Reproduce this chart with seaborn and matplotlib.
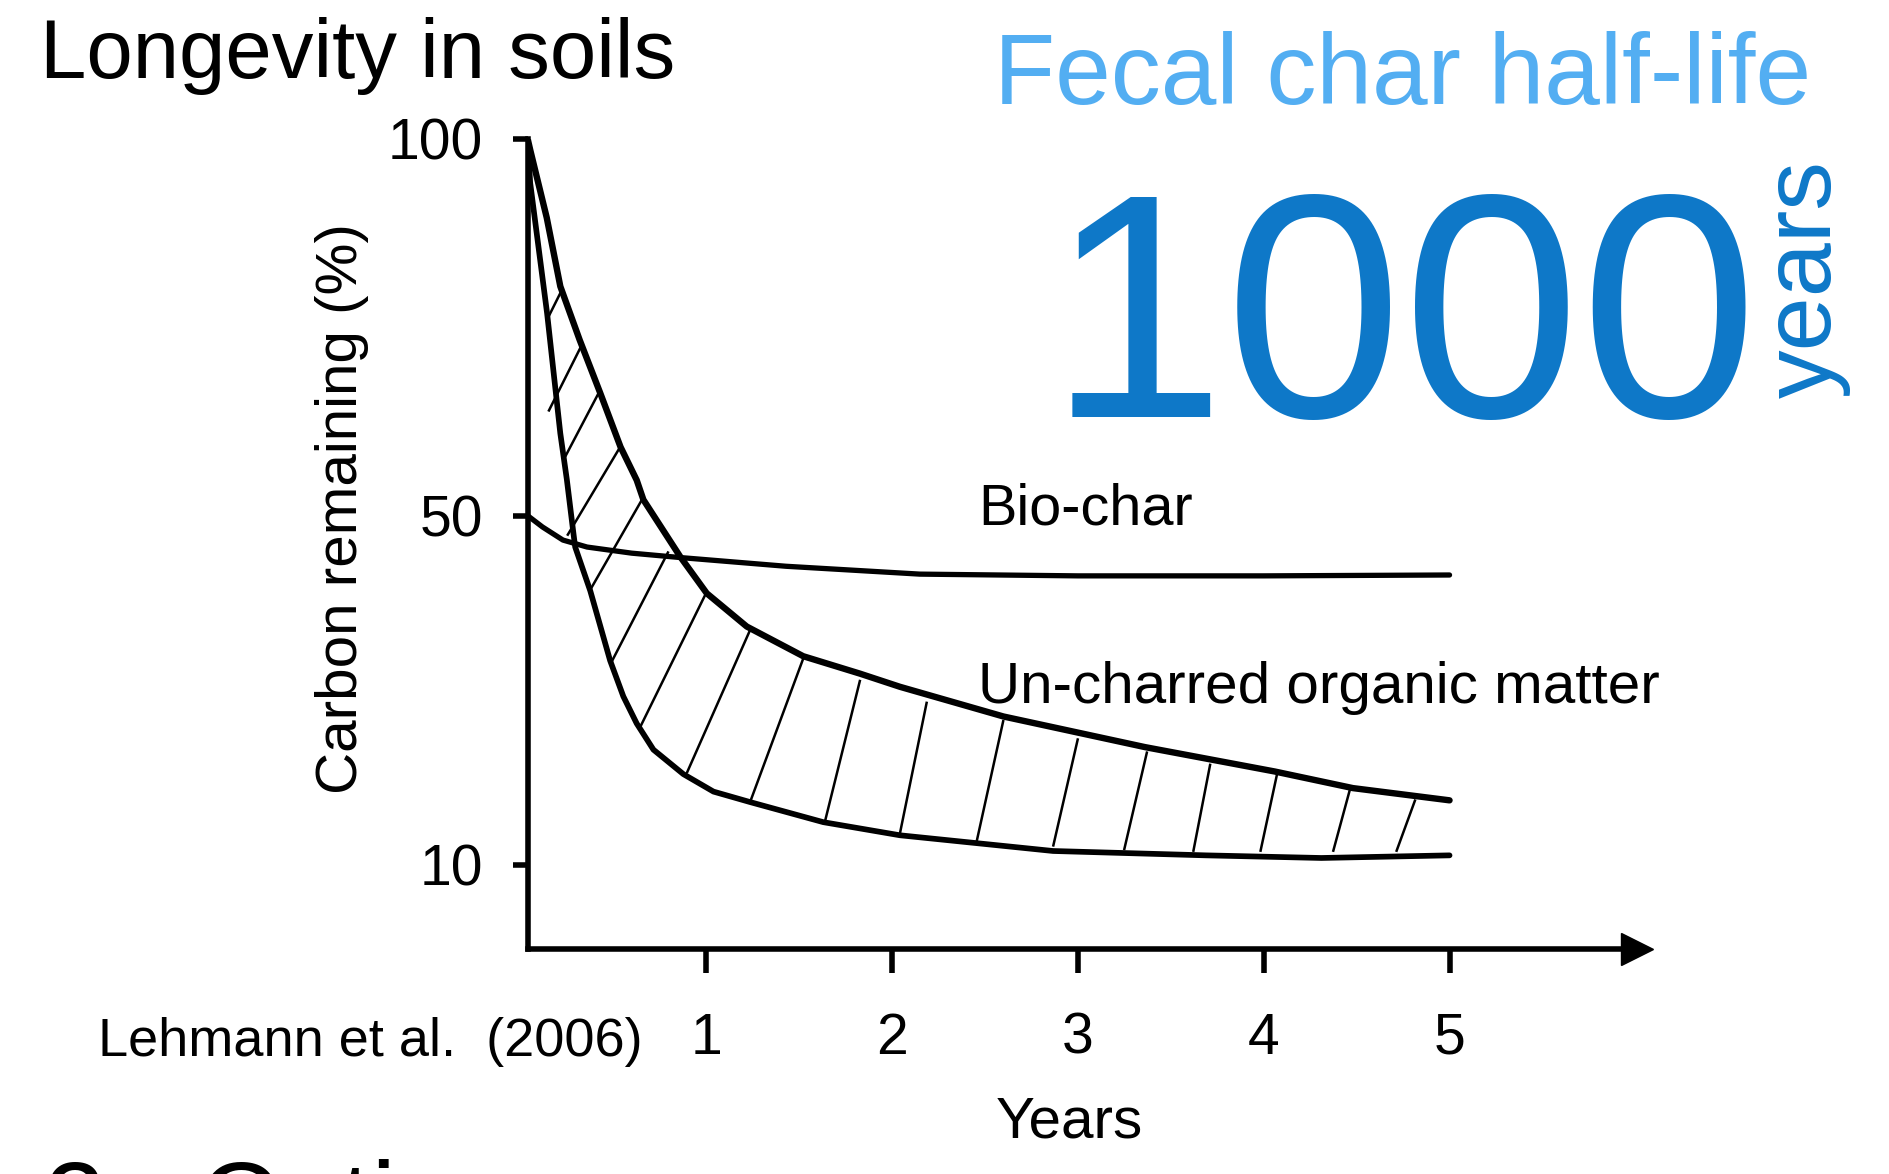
import matplotlib
matplotlib.use("Agg")
import matplotlib.pyplot as plt
import numpy as np
import pandas as pd
import seaborn as sns

biochar_years = [0.04, 0.12, 0.23, 0.36, 0.6, 0.86, 1.43, 2.15, 3.0, 4.0, 5.0]
biochar_carbon = [50.0, 48.7, 47.2, 46.4, 45.7, 45.2, 44.2, 43.3, 43.1, 43.1, 43.2]

upper_years = [0.04, 0.054, 0.143, 0.216, 0.32, 0.43, 0.54, 0.627, 0.663, 0.861, 1.004, 1.219,
               1.523, 1.829, 2.043, 2.6, 3.36, 4.06, 4.48, 5.0]
upper_carbon = [100, 98.5, 89.5, 80.4, 73.3, 66.3, 59.1, 54.7, 52.1, 45.3, 41.1, 37.3,
                33.9, 31.9, 30.4, 27.0, 23.5, 20.7, 18.8, 17.4]

lower_years = [0.04, 0.054, 0.145, 0.216, 0.251, 0.287, 0.296, 0.377, 0.484, 0.555, 0.627,
               0.717, 0.878, 1.04, 1.237, 1.631, 2.043, 2.867, 3.69, 4.31, 5.0]
lower_carbon = [100, 94.1, 76.8, 60.9, 54.8, 47.9, 46.4, 41.4, 33.4, 29.3, 26.2,
                23.2, 20.4, 18.4, 17.2, 14.9, 13.4, 11.6, 11.1, 10.8, 11.1]

# hand drawn hatching between the two un-charred curves
hatch_top_years = [0.224, 0.331, 0.421, 0.538, 0.655, 0.798, 0.995, 1.237, 1.524,
                   1.829, 2.188, 2.6, 3.001, 3.373, 3.713, 4.075, 4.466, 4.816]
hatch_top_carbon = [79.9, 72.6, 66.2, 59.1, 52.1, 45.9, 40.9, 36.9, 33.7,
                    31.2, 28.7, 26.6, 24.5, 23.0, 21.6, 20.7, 18.8, 17.5]
hatch_bottom_years = [0.143, 0.152, 0.242, 0.253, 0.377, 0.493, 0.646, 0.896, 1.237,
                      1.64, 2.043, 2.456, 2.867, 3.249, 3.621, 3.982, 4.373, 4.713]
hatch_bottom_carbon = [75.9, 63.8, 57.8, 47.7, 41.5, 33.3, 25.8, 20.5, 17.2,
                       15.0, 13.6, 12.7, 12.1, 11.7, 11.5, 11.5, 11.5, 11.5]

x_ticks = [1, 2, 3, 4, 5]
y_ticks = [10, 50, 100]

sns.set_theme(style="white")
plt.rcParams["font.family"] = ["Liberation Sans", "DejaVu Sans"]
plt.rcParams.update({"text.color": "black", "axes.labelcolor": "black",
                     "xtick.color": "black", "ytick.color": "black"})

# the original y axis is stretched unevenly between its labelled ticks
Y_KNOTS = [-1000, 0, 10, 50, 100, 1000]
Y_POS = [-7000, 0, 70, 360, 673, 673 + 900 * 6.26]


def y_forward(v):
    return np.interp(v, Y_KNOTS, Y_POS)


def y_inverse(p):
    return np.interp(p, Y_POS, Y_KNOTS)


df_bio = pd.DataFrame({"years": biochar_years, "carbon": biochar_carbon})
df_up = pd.DataFrame({"years": upper_years, "carbon": upper_carbon})
df_low = pd.DataFrame({"years": lower_years, "carbon": lower_carbon})

fig = plt.figure(figsize=(18.89, 11.74), dpi=100)
ax = fig.add_axes([0.2793, 0.1914, 0.5904, 0.6906])
ax.set_yscale("function", functions=(y_forward, y_inverse))

for x0, y0, x1, y1 in zip(hatch_top_years, hatch_top_carbon, hatch_bottom_years, hatch_bottom_carbon):
    ax.plot([x0, x1], [y0, y1], color="black", lw=1.8, solid_capstyle="butt")

line_kw = dict(x="years", y="carbon", sort=False, estimator=None, color="black", ax=ax)
sns.lineplot(data=df_up, lw=4.6, **line_kw)
sns.lineplot(data=df_low, lw=4.1, **line_kw)
sns.lineplot(data=df_bio, lw=3.8, **line_kw)
for l in ax.lines:
    l.set_solid_joinstyle("round")

ax.set_xlim(0.04, 6.04)
ax.set_ylim(0, 100)
ax.set_xticks(x_ticks)
ax.set_xticklabels([str(t) for t in x_ticks])
ax.set_yticks(y_ticks)
ax.set_yticklabels([str(t) for t in y_ticks])
ax.minorticks_off()
ax.tick_params(axis="y", direction="out", length=11, width=4, pad=21, labelsize=41, left=True)
ax.tick_params(axis="x", direction="out", length=17, width=4, pad=28, labelsize=41, bottom=True)
sns.despine(ax=ax)
for side in ["left", "bottom"]:
    ax.spines[side].set_linewidth(4)
    ax.spines[side].set_color("black")

# arrow head on the x axis
ax.plot([6.008], [0], marker=">", ms=23, color="black", transform=ax.get_xaxis_transform(), clip_on=False)

ax.set_ylabel("Carbon remaining (%)", fontsize=42, va="center")
ax.yaxis.set_label_coords(-0.166, 0.544)
ax.set_xlabel("Years", fontsize=42, va="baseline")
ax.xaxis.set_label_coords(0.486, -0.2327)

ax.text(2.465, 49.0, "Bio-char", fontsize=41.5, ha="left", va="baseline")
ax.text(2.465, 28.5, "Un-charred organic matter", fontsize=42, ha="left", va="baseline")

fig.text(0.021, 0.9336, "Longevity in soils", fontsize=60, ha="left", va="baseline")
fig.text(0.5263, 0.9110, "Fecal char half-life", fontsize=72, color="#53AEF2", ha="left", va="baseline")
fig.text(0.5545, 0.645, "1000", fontsize=230, color="#0E78C8", ha="left", va="baseline")
fig.text(0.9693, 0.6614, "years", fontsize=70, color="#0E78C8", rotation=90,
         rotation_mode="anchor", ha="left", va="baseline")
fig.text(0.0519, 0.1001, "Lehmann et al.  (2006)", fontsize=39, ha="left", va="baseline")
fig.text(0.0233, -0.056, "2.  Cation", fontsize=80, ha="left", va="baseline")

fig.savefig("out.png", dpi=100)
